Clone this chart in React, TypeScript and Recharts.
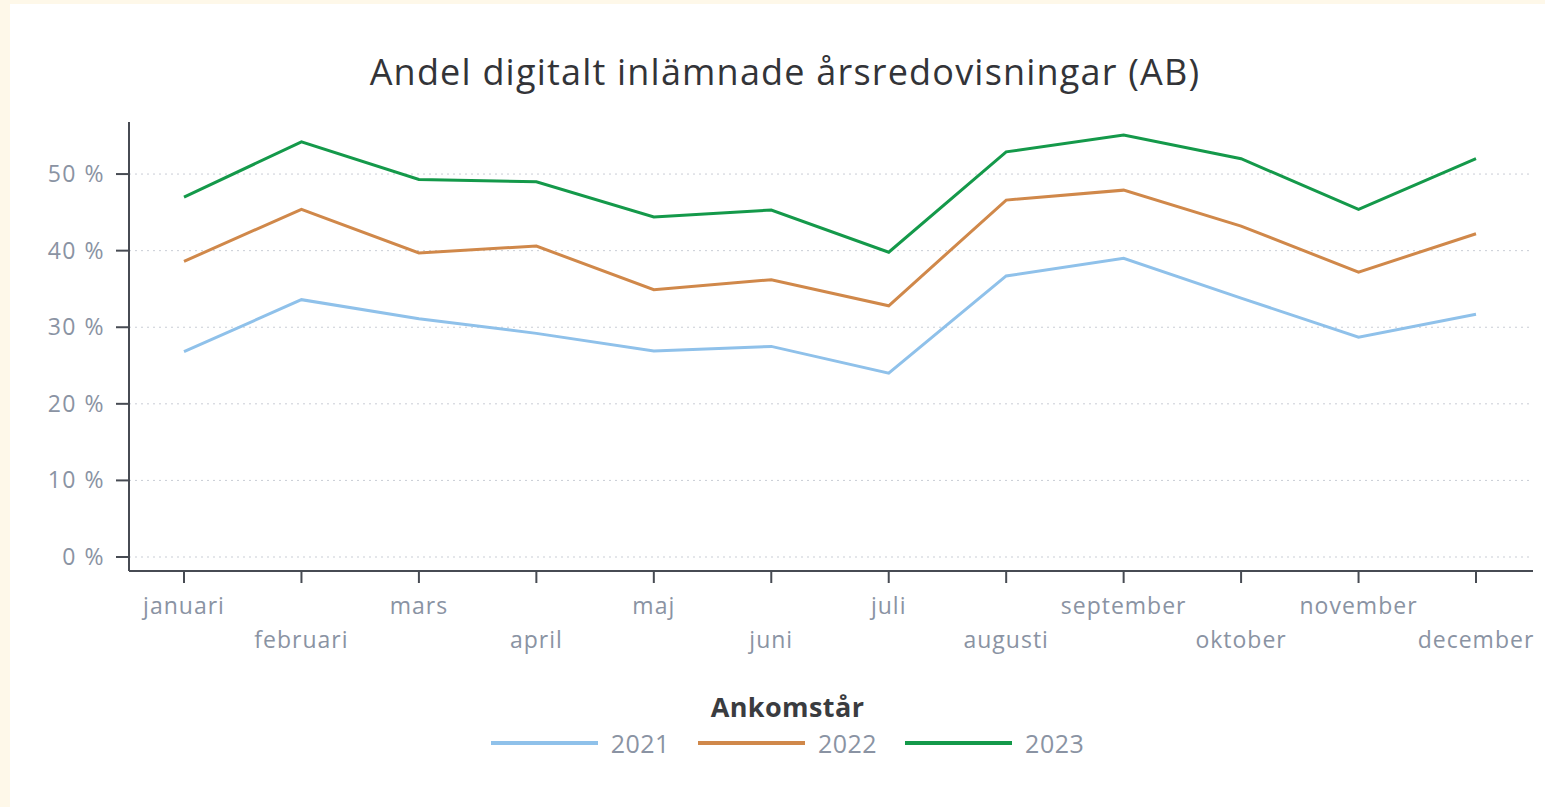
import { LineChart, Line, XAxis, YAxis, CartesianGrid, Legend } from 'recharts';

const months = [
  'januari', 'februari', 'mars', 'april', 'maj', 'juni',
  'juli', 'augusti', 'september', 'oktober', 'november', 'december',
];

const y2021 = [26.8, 33.6, 31.1, 29.2, 26.9, 27.5, 24.0, 36.7, 39.0, 33.8, 28.7, 31.7];
const y2022 = [38.6, 45.4, 39.7, 40.6, 34.9, 36.2, 32.8, 46.6, 47.9, 43.2, 37.2, 42.2];
const y2023 = [47.0, 54.2, 49.3, 49.0, 44.4, 45.3, 39.8, 52.9, 55.1, 52.0, 45.4, 52.0];

const yTicks = [0, 10, 20, 30, 40, 50];

const series = [
  { key: 'y2021', name: '2021', color: '#8fc1ea' },
  { key: 'y2022', name: '2022', color: '#d0884a' },
  { key: 'y2023', name: '2023', color: '#14994a' },
];

const data = months.map((m, i) => ({
  month: m,
  y2021: y2021[i],
  y2022: y2022[i],
  y2023: y2023[i],
}));

const FONT = '"Open Sans", "Noto Sans", sans-serif';
const AXIS = '#474b53';
const TICK_TEXT = '#8a93a3';

function MonthTick(props: any) {
  const { x, y, payload, index } = props;
  const dy = index % 2 === 0 ? 29 : 63;
  return (
    <text
      x={x}
      y={y + dy}
      textAnchor="middle"
      fill={TICK_TEXT}
      fontSize={23}
      letterSpacing={1}
      fontFamily={FONT}
    >
      {payload.value}
    </text>
  );
}

function PercentTick(props: any) {
  const { x, y, payload } = props;
  return (
    <text
      x={x}
      y={y}
      dy={8}
      textAnchor="end"
      fill={TICK_TEXT}
      fontSize={23}
      letterSpacing={1.5}
      fontFamily={FONT}
    >
      {`${payload.value} %`}
    </text>
  );
}

function LegendBox() {
  return (
    <div style={{ textAlign: 'center', fontFamily: FONT }}>
      <div
        style={{
          fontSize: 27,
          fontWeight: 700,
          color: '#3a3c40',
          lineHeight: '34px',
          letterSpacing: 0.4,
        }}
      >
        Ankomstår
      </div>
      <div style={{ display: 'flex', justifyContent: 'center', alignItems: 'center', marginTop: 2 }}>
        {series.map((s) => (
          <div key={s.key} style={{ display: 'flex', alignItems: 'center', margin: '0 14px' }}>
            <span
              style={{
                display: 'inline-block',
                width: 107,
                height: 4,
                background: s.color,
                marginRight: 13,
              }}
            />
            <span style={{ fontSize: 25, color: TICK_TEXT, letterSpacing: 0.5 }}>{s.name}</span>
          </div>
        ))}
      </div>
    </div>
  );
}

export default function App() {
  return (
    <div
      style={{
        position: 'absolute',
        left: 0,
        top: 0,
        width: 1545,
        height: 807,
        background: '#fef8e9',
        overflow: 'hidden',
      }}
    >
      <div
        style={{
          position: 'absolute',
          left: 10,
          top: 4,
          width: 1545,
          height: 820,
          background: '#ffffff',
        }}
      />
      <div
        style={{
          position: 'absolute',
          left: 0,
          top: 47,
          width: 1570,
          textAlign: 'center',
          fontFamily: FONT,
          fontSize: 36,
          letterSpacing: 1.2,
          color: '#333438',
        }}
      >
        Andel digitalt inlämnade årsredovisningar (AB)
      </div>
      <div style={{ position: 'absolute', left: 0, top: 0 }}>
        <LineChart
          width={1545}
          height={807}
          data={data}
          margin={{ top: 122, right: 12, bottom: 116, left: 9 }}
        >
          <CartesianGrid
            vertical={false}
            syncWithTicks
            stroke="#c9cdd5"
            strokeDasharray="2 4"
          />
          <XAxis
            dataKey="month"
            interval={0}
            padding={{ left: 55, right: 57 }}
            axisLine={{ stroke: AXIS, strokeWidth: 2 }}
            tickLine={{ stroke: AXIS, strokeWidth: 2 }}
            tickSize={12}
            tick={<MonthTick />}
            height={120}
          />
          <YAxis
            width={120}
            domain={[0, 55]}
            ticks={yTicks}
            padding={{ top: 13, bottom: 14 }}
            axisLine={{ stroke: AXIS, strokeWidth: 2 }}
            tickLine={{ stroke: AXIS, strokeWidth: 2 }}
            tickSize={13}
            tickMargin={11}
            tick={<PercentTick />}
          />
          <Legend
            layout="horizontal"
            verticalAlign="middle"
            align="center"
            wrapperStyle={{ top: 690, left: 0, width: 1575 }}
            content={<LegendBox />}
          />
          {series.map((s) => (
            <Line
              key={s.key}
              type="linear"
              dataKey={s.key}
              name={s.name}
              stroke={s.color}
              strokeWidth={3}
              dot={false}
              activeDot={false}
              isAnimationActive={false}
            />
          ))}
        </LineChart>
      </div>
    </div>
  );
}
